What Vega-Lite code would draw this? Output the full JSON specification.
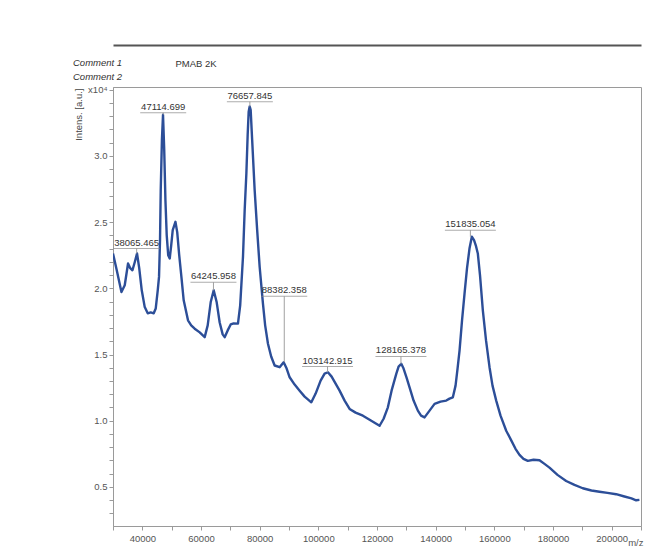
{
  "$schema": "https://vega.github.io/schema/vega-lite/v6.json",
  "width": 528,
  "height": 439,
  "autosize": {"type": "none"},
  "padding": {"left": 113, "top": 87, "right": 31, "bottom": 28},
  "background": "white",
  "config": {
    "font": "Liberation Sans",
    "view": {"stroke": "#9a9a9a", "strokeWidth": 1},
    "axis": {"grid": false, "labelFont": "Liberation Sans", "titleFont": "Liberation Sans"}
  },
  "title": {
    "text": ["Comment 1", "Comment 2"],
    "anchor": "start",
    "frame": "group",
    "fontStyle": "italic",
    "fontWeight": "normal",
    "fontSize": 9.5,
    "color": "#333333",
    "lineHeight": 14,
    "dx": -40,
    "dy": 40
  },
  "datasets": {
    "spectrum": [
      {"mz": 30000, "intensity": 22630}, {"mz": 31280, "intensity": 21360}, {"mz": 32880, "intensity": 19720},
      {"mz": 34000, "intensity": 20230}, {"mz": 35130, "intensity": 21870}, {"mz": 35880, "intensity": 21520},
      {"mz": 36630, "intensity": 21360}, {"mz": 37410, "intensity": 21970}, {"mz": 38190, "intensity": 22630},
      {"mz": 38940, "intensity": 21520}, {"mz": 39800, "intensity": 19850}, {"mz": 40820, "intensity": 18580},
      {"mz": 41840, "intensity": 18110}, {"mz": 42860, "intensity": 18180}, {"mz": 43880, "intensity": 18110},
      {"mz": 44570, "intensity": 18480}, {"mz": 45250, "intensity": 19850}, {"mz": 45690, "intensity": 20860},
      {"mz": 46030, "intensity": 23640}, {"mz": 46270, "intensity": 27420}, {"mz": 46680, "intensity": 31210},
      {"mz": 47050, "intensity": 33110}, {"mz": 47460, "intensity": 30450}, {"mz": 47870, "intensity": 26670},
      {"mz": 48310, "intensity": 24020}, {"mz": 48820, "intensity": 22500}, {"mz": 49340, "intensity": 22250},
      {"mz": 49850, "intensity": 23260}, {"mz": 50360, "intensity": 24390}, {"mz": 51280, "intensity": 25020},
      {"mz": 51890, "intensity": 24240}, {"mz": 52570, "intensity": 22500}, {"mz": 53320, "intensity": 20860},
      {"mz": 54100, "intensity": 19090}, {"mz": 55570, "intensity": 17580}, {"mz": 56660, "intensity": 17200},
      {"mz": 57850, "intensity": 16950}, {"mz": 59560, "intensity": 16670}, {"mz": 61260, "intensity": 16310},
      {"mz": 62280, "intensity": 17200}, {"mz": 63300, "intensity": 18940}, {"mz": 64330, "intensity": 19850},
      {"mz": 65350, "intensity": 18940}, {"mz": 66370, "intensity": 17420}, {"mz": 67390, "intensity": 16520},
      {"mz": 68070, "intensity": 16310}, {"mz": 69100, "intensity": 16820}, {"mz": 70120, "intensity": 17270},
      {"mz": 71140, "intensity": 17350}, {"mz": 72600, "intensity": 17330}, {"mz": 73360, "intensity": 18710},
      {"mz": 74310, "intensity": 22370}, {"mz": 74890, "intensity": 25910}, {"mz": 75470, "intensity": 28690},
      {"mz": 75910, "intensity": 31590}, {"mz": 76250, "intensity": 33330}, {"mz": 76590, "intensity": 33730},
      {"mz": 76930, "intensity": 33480}, {"mz": 77440, "intensity": 31210}, {"mz": 78290, "intensity": 27420},
      {"mz": 79150, "intensity": 24390}, {"mz": 80000, "intensity": 21610}, {"mz": 81120, "intensity": 18840},
      {"mz": 81870, "intensity": 17200}, {"mz": 82830, "intensity": 15810}, {"mz": 83920, "intensity": 14850},
      {"mz": 85110, "intensity": 14170}, {"mz": 86810, "intensity": 14040}, {"mz": 88180, "intensity": 14420},
      {"mz": 89200, "intensity": 13940}, {"mz": 90220, "intensity": 13280}, {"mz": 91920, "intensity": 12730},
      {"mz": 93630, "intensity": 12270}, {"mz": 95330, "intensity": 11820}, {"mz": 97610, "intensity": 11390},
      {"mz": 99080, "intensity": 12050}, {"mz": 100780, "intensity": 13030}, {"mz": 102140, "intensity": 13560},
      {"mz": 103270, "intensity": 13660}, {"mz": 104530, "intensity": 13330}, {"mz": 105890, "intensity": 12800},
      {"mz": 107250, "intensity": 12270}, {"mz": 108960, "intensity": 11520}, {"mz": 110660, "intensity": 10890},
      {"mz": 112710, "intensity": 10610}, {"mz": 115190, "intensity": 10380}, {"mz": 117480, "intensity": 10080},
      {"mz": 119180, "intensity": 9850}, {"mz": 120880, "intensity": 9620}, {"mz": 122250, "intensity": 10150},
      {"mz": 123710, "intensity": 11010}, {"mz": 124970, "intensity": 12270}, {"mz": 126570, "intensity": 13540},
      {"mz": 127360, "intensity": 14090}, {"mz": 128280, "intensity": 14300}, {"mz": 129060, "intensity": 13940},
      {"mz": 130080, "intensity": 13260}, {"mz": 131100, "intensity": 12520}, {"mz": 132470, "intensity": 11520},
      {"mz": 133930, "intensity": 10760}, {"mz": 135020, "intensity": 10380}, {"mz": 136210, "intensity": 10250},
      {"mz": 137920, "intensity": 10760}, {"mz": 139620, "intensity": 11270}, {"mz": 141670, "intensity": 11440},
      {"mz": 143610, "intensity": 11520}, {"mz": 144730, "intensity": 11670}, {"mz": 145860, "intensity": 11770},
      {"mz": 146780, "intensity": 12650}, {"mz": 147460, "intensity": 13940}, {"mz": 148140, "intensity": 15300},
      {"mz": 148990, "intensity": 17580}, {"mz": 149840, "intensity": 19600}, {"mz": 150690, "intensity": 21520},
      {"mz": 151550, "intensity": 23030}, {"mz": 152330, "intensity": 23890}, {"mz": 153080, "intensity": 23640},
      {"mz": 153760, "intensity": 23180}, {"mz": 154370, "intensity": 22630}, {"mz": 155120, "intensity": 20980},
      {"mz": 156080, "intensity": 18330}, {"mz": 157170, "intensity": 16060}, {"mz": 158360, "intensity": 14040},
      {"mz": 159380, "intensity": 12650}, {"mz": 160640, "intensity": 11520}, {"mz": 162110, "intensity": 10380},
      {"mz": 164050, "intensity": 9240}, {"mz": 165850, "intensity": 8480}, {"mz": 167220, "intensity": 7880},
      {"mz": 168580, "intensity": 7420}, {"mz": 169940, "intensity": 7120}, {"mz": 171410, "intensity": 6970},
      {"mz": 173350, "intensity": 7050}, {"mz": 175390, "intensity": 7020}, {"mz": 177100, "intensity": 6740},
      {"mz": 178800, "intensity": 6460}, {"mz": 181530, "intensity": 5910}, {"mz": 184490, "intensity": 5450},
      {"mz": 187320, "intensity": 5150}, {"mz": 190150, "intensity": 4900}, {"mz": 193110, "intensity": 4730},
      {"mz": 195840, "intensity": 4640}, {"mz": 198560, "intensity": 4550}, {"mz": 201530, "intensity": 4450},
      {"mz": 204350, "intensity": 4280}, {"mz": 206740, "intensity": 4130}, {"mz": 208340, "intensity": 3990},
      {"mz": 209460, "intensity": 4020}
    ],
    "peaks": [
      {"label": "38065.465", "mz": 38065, "intensity": 22630, "labelY": 23000},
      {"label": "47114.699", "mz": 47115, "intensity": 33110, "labelY": 33260},
      {"label": "64245.958", "mz": 64246, "intensity": 19850, "labelY": 20450},
      {"label": "76657.845", "mz": 76658, "intensity": 33730, "labelY": 34090},
      {"label": "88382.358", "mz": 88382, "intensity": 14420, "labelY": 19390},
      {"label": "103142.915", "mz": 103143, "intensity": 13660, "labelY": 14090},
      {"label": "128165.378", "mz": 128165, "intensity": 14300, "labelY": 14850},
      {"label": "151835.054", "mz": 151835, "intensity": 23890, "labelY": 24390}
    ]
  },
  "layer": [
    {
      "data": {"name": "spectrum"},
      "mark": {"type": "line", "color": "#2c4e98", "strokeWidth": 2.4, "strokeJoin": "round", "clip": true},
      "encoding": {
        "x": {
          "field": "mz", "type": "quantitative",
          "scale": {"domain": [30000, 210000], "nice": false, "zero": false},
          "axis": {
            "orient": "bottom",
            "values": [30000, 40000, 50000, 60000, 70000, 80000, 90000, 100000, 110000, 120000, 130000, 140000, 150000, 160000, 170000, 180000, 190000, 200000, 210000],
            "labelExpr": "datum.value % 20000 == 0 ? format(datum.value, 'd') : ''",
            "labelOverlap": false,
            "labelBound": false,
            "labelFontSize": 9.5,
            "labelColor": "#555555",
            "labelPadding": 3,
            "tickSize": 4,
            "tickColor": "#9a9a9a",
            "domainColor": "#9a9a9a",
            "title": "m/z",
            "titleX": 530,
            "titleY": 16,
            "titleAlign": "right",
            "titleBaseline": "middle",
            "titleFontSize": 9.5,
            "titleFontWeight": "normal",
            "titleColor": "#555555"
          }
        },
        "y": {
          "field": "intensity", "type": "quantitative",
          "scale": {"domain": [2050, 35200], "nice": false, "zero": false},
          "axis": {
            "orient": "left",
            "values": [3000, 4000, 5000, 6000, 7000, 8000, 9000, 10000, 11000, 12000, 13000, 14000, 15000, 16000, 17000, 18000, 19000, 20000, 21000, 22000, 23000, 24000, 25000, 26000, 27000, 28000, 29000, 30000, 31000, 32000, 33000, 34000, 35000],
            "labelExpr": "datum.value == 35000 ? 'x10⁴' : (datum.value % 5000 == 0 ? format(datum.value / 10000, '.1f') : '')",
            "labelOverlap": false,
            "labelBound": false,
            "labelFontSize": 9.5,
            "labelColor": "#555555",
            "labelPadding": 2,
            "tickSize": 4,
            "tickColor": "#9a9a9a",
            "domainColor": "#9a9a9a",
            "title": "Intens. [a.u.]",
            "titleX": -35,
            "titleY": 1,
            "titleAngle": -90,
            "titleAlign": "right",
            "titleBaseline": "middle",
            "titleFontSize": 9.5,
            "titleFontWeight": "normal",
            "titleColor": "#444444"
          }
        }
      }
    },
    {
      "data": {"name": "peaks"},
      "mark": {"type": "rule", "color": "#a0a0a0", "strokeWidth": 1},
      "encoding": {
        "x": {
          "field": "mz", "type": "quantitative",
          "axis": {
            "orient": "top",
            "offset": 42,
            "domain": true,
            "domainColor": "#555555",
            "domainWidth": 2,
            "ticks": false,
            "labels": false,
            "grid": false,
            "title": "PMAB 2K",
            "titleX": 62,
            "titleY": 18,
            "titleAlign": "left",
            "titleBaseline": "middle",
            "titleFontSize": 9.5,
            "titleFontWeight": "normal",
            "titleColor": "#333333"
          }
        },
        "y": {"field": "intensity", "type": "quantitative", "axis": null},
        "y2": {"field": "labelY"}
      }
    },
    {
      "data": {"name": "peaks"},
      "transform": [{"filter": "length(datum.label) == 9"}],
      "mark": {"type": "tick", "orient": "horizontal", "size": 46, "thickness": 1, "color": "#8a8a8a"},
      "encoding": {
        "x": {"field": "mz", "type": "quantitative", "axis": null},
        "y": {"field": "labelY", "type": "quantitative", "axis": null}
      }
    },
    {
      "data": {"name": "peaks"},
      "transform": [{"filter": "length(datum.label) == 10"}],
      "mark": {"type": "tick", "orient": "horizontal", "size": 51, "thickness": 1, "color": "#8a8a8a"},
      "encoding": {
        "x": {"field": "mz", "type": "quantitative", "axis": null},
        "y": {"field": "labelY", "type": "quantitative", "axis": null}
      }
    },
    {
      "data": {"name": "peaks"},
      "mark": {"type": "text", "align": "center", "baseline": "bottom", "dy": -1, "fontSize": 9.5, "color": "#333333", "font": "Liberation Sans"},
      "encoding": {
        "x": {"field": "mz", "type": "quantitative", "axis": null},
        "y": {"field": "labelY", "type": "quantitative", "axis": null},
        "text": {"field": "label", "type": "nominal"}
      }
    }
  ],
  "resolve": {"axis": {"x": "independent", "y": "independent"}}
}
